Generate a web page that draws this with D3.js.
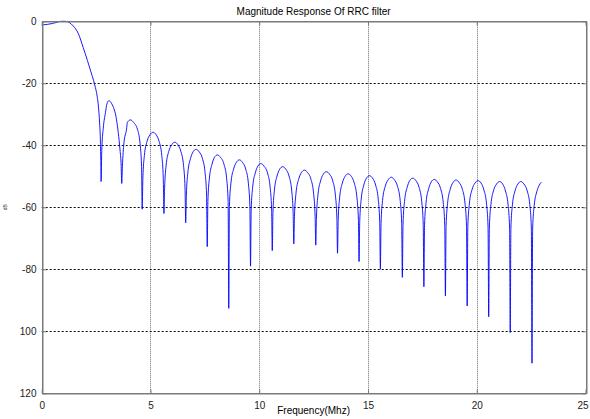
<!DOCTYPE html>
<html>
<head>
<meta charset="utf-8">
<script src="https://cdn.jsdelivr.net/npm/d3@7"></script>
<style>
  html, body { margin: 0; padding: 0; background: #fff; }
  svg { display: block; }
  text { font-family: "Liberation Sans", Arial, sans-serif; }
</style>
</head>
<body>
<svg id="chart" width="590" height="419"></svg>
<script>
// ---- data ----
const titleText = "Magnitude Response Of RRC filter";
const xLabelText = "Frequency(Mhz)";
const yLabelText = "dB";

const xTickValues = [0, 5, 10, 15, 20, 25];
const xTickLabels = ["0", "5", "10", "15", "20", "25"];
const yTickValues = [0, -20, -40, -60, -80, -100, -120];
const yTickLabels = ["0", "-20", "-40", "-60", "-80", "100", "120"];

// frequency (MHz) of each sampled point of the response
const freq = [
  0, 0.25, 0.5, 0.7, 0.9, 1.1, 1.25, 1.45, 1.68, 1.91, 2.1, 2.25, 2.38, 2.47, 2.55, 2.61, 2.66, 2.70, 2.72, 2.73,
  2.76, 2.83, 2.93, 3.0, 3.09, 3.22, 3.44, 3.6, 3.65, 3.68,
  3.71, 3.78, 3.90, 3.94, 4.08, 4.22, 4.40, 4.52, 4.59, 4.62,
  4.65, 4.72, 4.84, 4.98, 5.12, 5.26, 5.40, 5.52, 5.59, 5.62,
  5.65, 5.72, 5.84, 5.98, 6.12, 6.26, 6.40, 6.52, 6.59, 6.62,
  6.65, 6.72, 6.84, 6.96, 7.10, 7.24, 7.39, 7.51, 7.58, 7.61,
  7.64, 7.71, 7.83, 7.94, 8.08, 8.22, 8.38, 8.50, 8.57, 8.60,
  8.63, 8.70, 8.82, 8.95, 9.09, 9.23, 9.38, 9.50, 9.57, 9.60,
  9.63, 9.70, 9.82, 9.94, 10.08, 10.22, 10.38, 10.50, 10.57, 10.60,
  10.63, 10.70, 10.82, 10.94, 11.08, 11.22, 11.37, 11.49, 11.56, 11.59,
  11.62, 11.69, 11.81, 11.94, 12.08, 12.22, 12.38, 12.50, 12.57, 12.60,
  12.63, 12.70, 12.82, 12.95, 13.09, 13.23, 13.38, 13.50, 13.57, 13.60,
  13.63, 13.70, 13.82, 13.95, 14.09, 14.23, 14.37, 14.49, 14.56, 14.59,
  14.62, 14.69, 14.81, 14.93, 15.07, 15.21, 15.35, 15.47, 15.54, 15.57,
  15.60, 15.67, 15.79, 15.93, 16.07, 16.21, 16.36, 16.48, 16.55, 16.58,
  16.61, 16.68, 16.80, 16.92, 17.06, 17.20, 17.35, 17.47, 17.54, 17.57,
  17.60, 17.67, 17.79, 17.91, 18.05, 18.19, 18.34, 18.46, 18.53, 18.56,
  18.59, 18.66, 18.78, 18.91, 19.05, 19.19, 19.34, 19.46, 19.53, 19.56,
  19.59, 19.66, 19.78, 19.92, 20.06, 20.20, 20.33, 20.45, 20.52, 20.55,
  20.58, 20.65, 20.77, 20.91, 21.05, 21.19, 21.32, 21.44, 21.51, 21.54,
  21.57, 21.64, 21.76, 21.89, 22.03, 22.17, 22.32, 22.44, 22.51, 22.54,
  22.57, 22.64, 22.76, 22.88, 22.97
];

// magnitude (dB) at each of those frequencies
const magnitude = [
  -1.2, -1.0, -0.7, -0.3, 0, 0, -0.3, -1.5, -3.9, -8.5, -12.6, -16.0, -19.0, -21.4, -24.2, -27.6, -32.5, -39, -46, -51.7,
  -42, -34.5, -29.5, -26.6, -25.6, -26.6, -31.8, -41.5, -46, -52.3,
  -46.8, -39.3, -34.8, -32.6, -31.8, -32.6, -34.8, -39.3, -46.8, -60.6,
  -50.8, -43.3, -38.8, -36.6, -35.8, -36.6, -38.8, -43.3, -50.8, -62,
  -54, -46.5, -42, -39.8, -39, -39.8, -42, -46.5, -54, -65,
  -56.3, -48.8, -44.3, -42.1, -41.3, -42.1, -44.3, -48.8, -56.3, -72.7,
  -58.1, -50.6, -46.1, -43.9, -43.1, -43.9, -46.1, -50.6, -58.1, -92.6,
  -59.7, -52.2, -47.7, -45.5, -44.7, -45.5, -47.7, -52.2, -59.7, -79,
  -60.9, -53.4, -48.9, -46.7, -45.9, -46.7, -48.9, -53.4, -60.9, -74,
  -61.9, -54.4, -49.9, -47.7, -46.9, -47.7, -49.9, -54.4, -61.9, -71.8,
  -63, -55.5, -51, -48.8, -48, -48.8, -51, -55.5, -63, -72.2,
  -63.5, -56, -51.5, -49.3, -48.5, -49.3, -51.5, -56, -63.5, -74.8,
  -64.2, -56.7, -52.2, -50, -49.2, -50, -52.2, -56.7, -64.2, -77.5,
  -64.8, -57.3, -52.8, -50.6, -49.8, -50.6, -52.8, -57.3, -64.8, -80,
  -65.3, -57.8, -53.3, -51.1, -50.3, -51.1, -53.3, -57.8, -65.3, -82.6,
  -65.6, -58.1, -53.6, -51.4, -50.6, -51.4, -53.6, -58.1, -65.6, -85.6,
  -66, -58.5, -54, -51.8, -51, -51.8, -54, -58.5, -66, -88.6,
  -66.2, -58.7, -54.2, -52, -51.2, -52, -54.2, -58.7, -66.2, -91.8,
  -66.4, -58.9, -54.4, -52.2, -51.4, -52.2, -54.4, -58.9, -66.4, -95.3,
  -66.7, -59.2, -54.7, -52.5, -51.7, -52.5, -54.7, -59.2, -66.7, -100.4,
  -66.7, -59.2, -54.7, -52.5, -51.7, -52.5, -54.7, -59.2, -66.7, -110.3,
  -67, -59.5, -55, -52.8, -51.9
];

// ---- drawing ----
const svg = d3.select("#chart");
const plot = { left: 41.7, right: 585.5, top: 21.3, bottom: 393.3 };

const x = d3.scaleLinear().domain([0, 25]).range([plot.left, plot.right]);
const y = d3.scaleLinear().domain([-120, 0]).range([plot.bottom, plot.top]);

// grid lines
const grid = svg.append("g");
grid.selectAll("line.vgrid")
  .data(xTickValues.slice(1, -1))
  .join("line")
  .attr("x1", d => Math.round(x(d)) + 0.5).attr("x2", d => Math.round(x(d)) + 0.5)
  .attr("y1", plot.top).attr("y2", plot.bottom)
  .attr("stroke", "#6e6e6e").attr("stroke-width", 1)
  .attr("stroke-dasharray", "1,1");
grid.selectAll("line.hgrid")
  .data(yTickValues.slice(1, -1))
  .join("line")
  .attr("x1", plot.left).attr("x2", plot.right)
  .attr("y1", d => Math.round(y(d)) + 0.5).attr("y2", d => Math.round(y(d)) + 0.5)
  .attr("stroke", "#000").attr("stroke-width", 1)
  .attr("stroke-dasharray", "2,2");

// response line
const points = freq.map((f, i) => [f, magnitude[i]]);
const line = d3.line()
  .x(d => x(d[0]))
  .y(d => y(d[1]))
  .curve(d3.curveMonotoneX);
svg.append("path")
  .datum(points)
  .attr("d", line)
  .attr("fill", "none")
  .attr("stroke", "#0000ff")
  .attr("stroke-width", 0.9);

// axes frame (MATLAB-like box)
const axisColor = "#7a7a7a";
svg.append("rect")
  .attr("x", Math.round(plot.left) + 0.5)
  .attr("y", Math.round(plot.top) + 0.5)
  .attr("width", Math.round(plot.right) - Math.round(plot.left))
  .attr("height", Math.round(plot.bottom) - Math.round(plot.top))
  .attr("fill", "none").attr("stroke", axisColor).attr("stroke-width", 1);

// bottom axis (ticks inward)
const xAxis = d3.axisBottom(x)
  .tickValues(xTickValues)
  .tickFormat((d, i) => xTickLabels[i])
  .tickSizeInner(-4).tickSizeOuter(0).tickPadding(8);
const gx = svg.append("g")
  .attr("transform", `translate(0,${Math.round(plot.bottom) + 0.5})`)
  .call(xAxis);
gx.select(".domain").attr("stroke", axisColor);
gx.selectAll(".tick line").attr("stroke", axisColor);
gx.selectAll("text").attr("fill", "#222").style("font-size", "10px")
  .style("font-family", "'Liberation Sans', Arial, sans-serif");
// keep the last label inside the window
gx.selectAll(".tick text").filter(d => d === 25).attr("dx", -3);

// top axis ticks (no labels)
const xTop = d3.axisTop(x).tickValues(xTickValues).tickFormat("").tickSizeInner(-4).tickSizeOuter(0);
const gxt = svg.append("g")
  .attr("transform", `translate(0,${Math.round(plot.top) + 0.5})`)
  .call(xTop);
gxt.select(".domain").attr("stroke", axisColor);
gxt.selectAll(".tick line").attr("stroke", axisColor);

// left axis
const yAxis = d3.axisLeft(y)
  .tickValues(yTickValues)
  .tickFormat((d, i) => yTickLabels[i])
  .tickSizeInner(-4).tickSizeOuter(0).tickPadding(6);
const gy = svg.append("g")
  .attr("transform", `translate(${Math.round(plot.left) + 0.5},0)`)
  .call(yAxis);
gy.select(".domain").attr("stroke", axisColor);
gy.selectAll(".tick line").attr("stroke", axisColor);
gy.selectAll("text").attr("fill", "#222").style("font-size", "10px")
  .style("font-family", "'Liberation Sans', Arial, sans-serif");

// right axis ticks
const yRight = d3.axisRight(y).tickValues(yTickValues).tickFormat("").tickSizeInner(-4).tickSizeOuter(0);
const gyr = svg.append("g")
  .attr("transform", `translate(${Math.round(plot.right) + 0.5},0)`)
  .call(yRight);
gyr.select(".domain").attr("stroke", axisColor);
gyr.selectAll(".tick line").attr("stroke", axisColor);

// title
svg.append("text")
  .attr("x", (plot.left + plot.right) / 2)
  .attr("y", 15)
  .attr("text-anchor", "middle")
  .attr("fill", "#000")
  .style("font-size", "10px")
  .text(titleText);

// x label
svg.append("text")
  .attr("x", (plot.left + plot.right) / 2)
  .attr("y", 414)
  .attr("text-anchor", "middle")
  .attr("fill", "#000")
  .style("font-size", "10px")
  .text(xLabelText);

// y label (tiny, rotated)
svg.append("text")
  .attr("transform", `translate(7,${(plot.top + plot.bottom) / 2}) rotate(-90)`)
  .attr("text-anchor", "middle")
  .attr("fill", "#333")
  .style("font-size", "5px")
  .text(yLabelText);
</script>
</body>
</html>
